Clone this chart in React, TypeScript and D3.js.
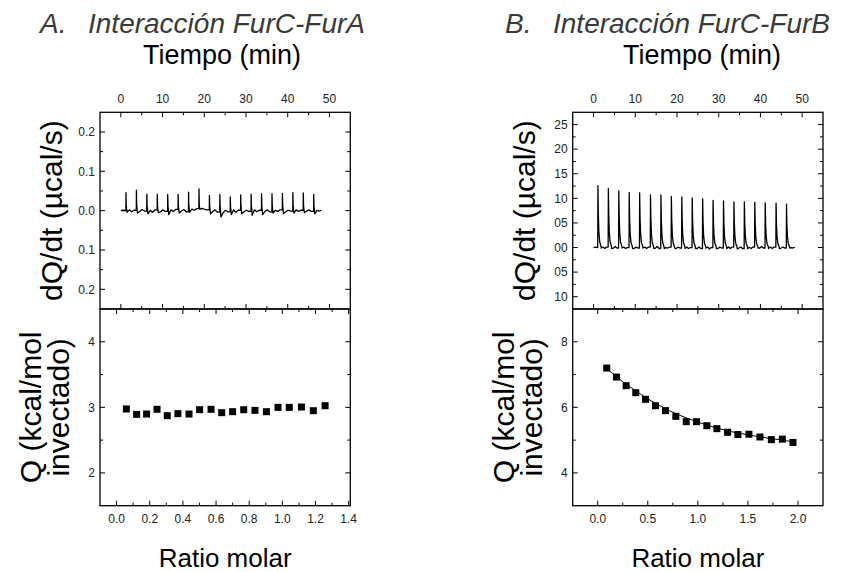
import React from 'react';
import * as d3 from 'd3';

// ---------- DATA ----------
const timeTicks = [0, 10, 20, 30, 40, 50];

// Panel A – raw thermogram (FurC-FurA)
const injTimesA = [1.2, 3.7, 6.2, 8.7, 11.2, 13.7, 16.2, 18.7, 21.2, 23.7, 26.2, 28.7, 31.2, 33.7, 36.2, 38.7, 41.2, 43.7, 46.2];
const peaksA = [0.046, 0.052, 0.042, 0.042, 0.041, 0.041, 0.047, 0.055, 0.039, 0.041, 0.035, 0.040, 0.042, 0.043, 0.043, 0.044, 0.046, 0.045, 0.041];
const dipsA = [-0.004, -0.006, -0.008, -0.005, -0.010, -0.006, -0.004, 0.004, -0.008, -0.016, -0.010, -0.008, -0.012, -0.010, -0.006, -0.008, -0.006, -0.005, -0.008];
const baseA = [
  0.002, -0.003, 0.001, -0.002, 0.003, -0.001, 0.001, -0.004, 0.002, -0.003, 0.002, -0.002,
  0.002, -0.002, 0.003, -0.001, 0.003, -0.003, 0.004, 0.001, 0.005, 0.006, 0.003, 0.002,
  -0.002, 0.002, -0.004, -0.005, 0.001, -0.003, 0.002, -0.004, 0.001, -0.003, 0.001, -0.002,
  0.002, -0.003, 0.001, -0.002, 0.002, -0.003, 0.001, -0.002, 0.002, -0.003, 0.001, -0.001,
  0.002, -0.002, 0.001, -0.001, 0.002, -0.002, 0.001, -0.001, 0.001,
];
const endTimeA = 48.6;
const dqTicksA = [0.2, 0.1, 0, -0.1, -0.2];
const dqLabelsA = ['0.2', '0.1', '0.0', '0.1', '0.2'];

// Panel A – integrated heats
const ratioA = [0.059, 0.121, 0.181, 0.244, 0.306, 0.370, 0.437, 0.501, 0.570, 0.634, 0.700, 0.767, 0.835, 0.904, 0.974, 1.042, 1.115, 1.187, 1.258];
const heatA = [2.975, 2.893, 2.898, 2.970, 2.873, 2.904, 2.898, 2.964, 2.970, 2.919, 2.934, 2.964, 2.954, 2.934, 3.000, 3.000, 3.005, 2.949, 3.025];
const qTicksA = [2, 3, 4];
const ratioTicksA = [0, 0.2, 0.4, 0.6, 0.8, 1.0, 1.2, 1.4];

// Panel B – raw thermogram (FurC-FurB)
const injTimesB = [1.0, 3.5, 6.0, 8.5, 11.0, 13.6, 16.1, 18.6, 21.1, 23.6, 26.1, 28.6, 31.1, 33.6, 36.1, 38.6, 41.1, 43.7, 46.2];
const peaksB = [0.126, 0.120, 0.115, 0.112, 0.111, 0.107, 0.107, 0.104, 0.103, 0.101, 0.099, 0.096, 0.095, 0.093, 0.093, 0.092, 0.091, 0.090, 0.088];
const dipsB = [-0.001, -0.002, -0.001, -0.002, -0.001, -0.002, -0.002, -0.001, -0.002, -0.002, -0.001, -0.002, -0.002, -0.003, -0.002, -0.001, -0.002, -0.002, -0.001];
const baseB = [
  0.001, -0.002, 0.001, -0.001, 0.002, -0.001, 0.001, -0.002, 0.000, -0.002, 0.001, -0.001,
  0.001, -0.002, 0.001, -0.001, 0.002, -0.002, 0.000, -0.001, 0.001, -0.002, 0.001, -0.001,
  0.001, -0.002, 0.000, -0.002, 0.001, -0.002, 0.001, -0.003, 0.000, -0.002, 0.001, -0.001,
  0.001, -0.002, 0.001, -0.001, 0.001, -0.002, 0.000, -0.002, 0.001, -0.001, 0.002, -0.001,
  0.001, -0.002, 0.001, -0.001, 0.001, -0.001, 0.000, -0.001, 0.001,
];
const endTimeB = 48.6;
const dqTicksB = [0.25, 0.2, 0.15, 0.1, 0.05, 0, -0.05, -0.1];
const dqLabelsB = ['25', '20', '15', '10', '05', '00', '05', '10'];

// Panel B – integrated heats and fit
const ratioB = [0.09, 0.187, 0.284, 0.38, 0.477, 0.577, 0.677, 0.78, 0.884, 0.987, 1.09, 1.19, 1.297, 1.40, 1.51, 1.62, 1.734, 1.844, 1.95];
const heatB = [7.198, 6.924, 6.66, 6.447, 6.244, 6.05, 5.9, 5.726, 5.563, 5.563, 5.44, 5.35, 5.24, 5.17, 5.18, 5.096, 5.015, 5.03, 4.93];
const fitRatioB = [0.09, 0.2, 0.3, 0.4, 0.5, 0.6, 0.7, 0.8, 0.9, 1.0, 1.1, 1.2, 1.3, 1.4, 1.5, 1.6, 1.7, 1.8, 1.95];
const fitHeatB = [7.18, 6.9, 6.67, 6.46, 6.26, 6.08, 5.92, 5.78, 5.66, 5.55, 5.45, 5.36, 5.28, 5.22, 5.16, 5.11, 5.06, 5.02, 4.95];
const qTicksB = [4, 6, 8];
const ratioTicksB = [0, 0.5, 1.0, 1.5, 2.0];

// ---------- HELPERS ----------
const FONT = 'Liberation Sans, Arial, Helvetica, sans-serif';

type Pt = [number, number];
function buildTrace(inj: number[], peaks: number[], dips: number[], base: number[], shape: Pt[], tEnd: number): Pt[] {
  const pts: Pt[] = [[0, 0], [inj[0] * 0.5, base[base.length - 1]], [inj[0] - 0.05, 0]];
  let last = 0;
  inj.forEach((t, i) => {
    const next = i < inj.length - 1 ? inj[i + 1] : tEnd;
    pts.push([t, last]);
    shape.forEach(([dt, f]) => pts.push([t + dt, f * peaks[i]]));
    const tail = shape[shape.length - 1][0];
    pts.push([t + tail + 0.1, dips[i]]);
    const b = base.slice(i * 3, i * 3 + 3);
    const span = next - (t + tail + 0.1);
    b.forEach((v, k) => pts.push([t + tail + 0.1 + span * (k + 1) / 4, v]));
    last = b[b.length - 1] ?? 0;
  });
  return pts;
}
const shapeA: Pt[] = [[0.03, 1], [0.09, 0.3], [0.18, 0.08]];
const shapeB: Pt[] = [[0.05, 1], [0.14, 0.55], [0.28, 0.25], [0.48, 0.09], [0.75, 0.03]];

interface TickSpec { major: number[]; minor: number[] }
function Frame({ x0, x1, y0, y1, xs, ys, xt, yt }: any) {
  const L = 5, l = 3;
  const out: any[] = [];
  (xt as TickSpec).major.forEach((v, i) => {
    const x = xs(v);
    out.push(<line key={'xm' + i} x1={x} x2={x} y1={y1} y2={y1 - L} />);
    out.push(<line key={'xM' + i} x1={x} x2={x} y1={y0} y2={y0 + L} />);
  });
  (xt as TickSpec).minor.forEach((v, i) => {
    const x = xs(v);
    out.push(<line key={'xn' + i} x1={x} x2={x} y1={y1} y2={y1 - l} />);
    out.push(<line key={'xN' + i} x1={x} x2={x} y1={y0} y2={y0 + l} />);
  });
  (yt as TickSpec).major.forEach((v, i) => {
    const y = ys(v);
    out.push(<line key={'ym' + i} x1={x0} x2={x0 + L} y1={y} y2={y} />);
    out.push(<line key={'yM' + i} x1={x1} x2={x1 - L} y1={y} y2={y} />);
  });
  (yt as TickSpec).minor.forEach((v, i) => {
    const y = ys(v);
    out.push(<line key={'yn' + i} x1={x0} x2={x0 + l} y1={y} y2={y} />);
    out.push(<line key={'yN' + i} x1={x1} x2={x1 - l} y1={y} y2={y} />);
  });
  return (
    <g stroke="#000" strokeWidth={1}>
      {out}
      <rect x={x0} y={y0} width={x1 - x0} height={y1 - y0} fill="none" strokeWidth={1.3} />
    </g>
  );
}

function Panel({ px, title, titleLetter, titleX, tiempoX, traceInj, tracePeaks, traceDips, traceBase, traceShape, traceEnd,
  dqDomain, dqTicks, dqLabels, dqMinor, ratioDomain, ratioTicks, ratioMinor, ratioFmt,
  qDomain, qTicks, qMinor, ratio, heat, fitX, fitY }: any) {
  const X0 = px, X1 = px + 250.3, Y0 = 112.3, YM = 309, Y1 = 505.7;
  const xt = d3.scaleLinear().domain([-5, 55]).range([X0, X1]);
  const yd = d3.scaleLinear().domain(dqDomain).range([YM, Y0]);
  const xr = d3.scaleLinear().domain(ratioDomain).range([X0, X1]);
  const yq = d3.scaleLinear().domain(qDomain).range([Y1, YM]);
  const trace = buildTrace(traceInj, tracePeaks, traceDips, traceBase, traceShape, traceEnd);
  const line = d3.line<Pt>().x(d => xt(d[0])).y(d => yd(d[1]));
  const fitLine = d3.line<number>().x((d, i) => xr(fitX[i])).y(d => yq(d)).curve(d3.curveMonotoneX);
  const cx = (X0 + X1) / 2;
  const sq = 7;
  return (
    <g fontFamily={FONT}>
      <text x={titleX} y={33} fontSize={28} fontStyle="italic" fill="#3a3a3a">{titleLetter}</text>
      <text x={titleX + 48} y={33} fontSize={28} fontStyle="italic" fill="#3a3a3a">{title}</text>
      <text x={tiempoX} y={64} fontSize={27} textAnchor="middle" fill="#000">Tiempo (min)</text>
      {timeTicks.map(t => (
        <text key={'tt' + t} x={xt(t)} y={102.5} fontSize={12} textAnchor="middle" fill="#222">{t}</text>
      ))}
      {dqTicks.map((v: number, i: number) => (
        <text key={'dq' + i} x={X0 - 5} y={yd(v) + 4.3} fontSize={12} textAnchor="end" fill="#222">{dqLabels[i]}</text>
      ))}
      {qTicks.map((v: number) => (
        <text key={'q' + v} x={X0 - 5} y={yq(v) + 4.3} fontSize={12} textAnchor="end" fill="#222">{v}</text>
      ))}
      {ratioTicks.map((v: number) => (
        <text key={'r' + v} x={xr(v)} y={522.5} fontSize={12} textAnchor="middle" fill="#222">{ratioFmt(v)}</text>
      ))}
      <text transform={`translate(${X0 - 38},${(Y0 + YM) / 2}) rotate(-90)`} fontSize={30} textAnchor="middle" fill="#000">dQ/dt (µcal/s)</text>
      <text transform={`translate(${X0 - 59},${(YM + Y1) / 2}) rotate(-90)`} fontSize={30} textAnchor="middle" fill="#000">Q (kcal/mol</text>
      <text transform={`translate(${X0 - 31},${(YM + Y1) / 2}) rotate(-90)`} fontSize={30} textAnchor="middle" fill="#000">invectado)</text>
      <text x={cx} y={567} fontSize={26} textAnchor="middle" fill="#000">Ratio molar</text>

      <Frame x0={X0} x1={X1} y0={Y0} y1={YM} xs={xt} ys={yd}
        xt={{ major: timeTicks, minor: [5, 15, 25, 35, 45] }}
        yt={{ major: dqTicks, minor: dqMinor }} />
      <Frame x0={X0} x1={X1} y0={YM} y1={Y1} xs={xr} ys={yq}
        xt={{ major: ratioTicks, minor: ratioMinor }}
        yt={{ major: qTicks, minor: qMinor }} />

      <path d={line(trace) ?? ''} fill="none" stroke="#000" strokeWidth={1.3} strokeLinejoin="round" />
      {fitX && <path d={fitLine(fitY) ?? ''} fill="none" stroke="#000" strokeWidth={1} />}
      {ratio.map((r: number, i: number) => (
        <rect key={'p' + i} x={xr(r) - sq / 2} y={yq(heat[i]) - sq / 2} width={sq} height={sq} fill="#000" />
      ))}
    </g>
  );
}

export default function App() {
  return (
    <svg width={846} height={572} style={{ position: 'absolute', left: 0, top: 0, display: 'block', background: '#fff' }}>
      <rect x={0} y={0} width={846} height={572} fill="#fff" />
      <Panel px={100} titleLetter="A." title="Interacción FurC-FurA" titleX={40} tiempoX={222}
        traceInj={injTimesA} tracePeaks={peaksA} traceDips={dipsA} traceBase={baseA} traceShape={shapeA} traceEnd={endTimeA}
        dqDomain={[-0.25, 0.25]} dqTicks={dqTicksA} dqLabels={dqLabelsA} dqMinor={[-0.15, -0.05, 0.05, 0.15]}
        ratioDomain={[-0.1, 1.41]} ratioTicks={ratioTicksA} ratioMinor={[0.1, 0.3, 0.5, 0.7, 0.9, 1.1, 1.3]}
        ratioFmt={(v: number) => v.toFixed(1)}
        qDomain={[1.5, 4.5]} qTicks={qTicksA} qMinor={[2.5, 3.5]}
        ratio={ratioA} heat={heatA} />
      <Panel px={572.7} titleLetter="B." title="Interacción FurC-FurB" titleX={505} tiempoX={702}
        traceInj={injTimesB} tracePeaks={peaksB} traceDips={dipsB} traceBase={baseB} traceShape={shapeB} traceEnd={endTimeB}
        dqDomain={[-0.125, 0.275]} dqTicks={dqTicksB} dqLabels={dqLabelsB} dqMinor={[-0.075, -0.025, 0.025, 0.075, 0.125, 0.175, 0.225]}
        ratioDomain={[-0.25, 2.25]} ratioTicks={ratioTicksB} ratioMinor={[0.25, 0.75, 1.25, 1.75]}
        ratioFmt={(v: number) => v.toFixed(1)}
        qDomain={[3, 9]} qTicks={qTicksB} qMinor={[5, 7]}
        ratio={ratioB} heat={heatB} fitX={fitRatioB} fitY={fitHeatB} />
    </svg>
  );
}
